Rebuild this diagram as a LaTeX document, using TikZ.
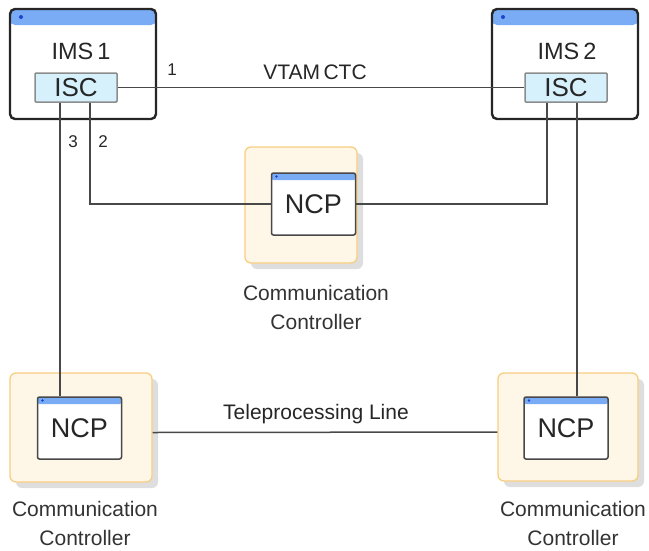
\documentclass[tikz,border=0pt]{standalone}
\usepackage{fontspec}
\setmainfont{Liberation Sans}
\usepackage{tikz}
\usetikzlibrary{positioning,shadows}
\definecolor{imsbar}{RGB}{122,172,245}
\definecolor{imsdot}{RGB}{25,70,210}
\definecolor{iscfill}{RGB}{214,240,252}
\definecolor{ccfill}{RGB}{254,246,231}
\definecolor{ccline}{RGB}{248,206,128}
\definecolor{wire}{RGB}{72,72,72}

\begin{document}
\begin{tikzpicture}[x=1pt, y=-1pt,
  imsbox/.style={draw=black!85, line width=2.4pt, rounded corners=5pt, fill=white,
    minimum width=146pt, minimum height=110pt, inner sep=0pt,
    path picture={
      \fill[imsbar] (path picture bounding box.north west) rectangle ([yshift=-16pt]path picture bounding box.north east);
      \fill[imsdot] ([xshift=11pt,yshift=-8pt]path picture bounding box.north west) circle (2pt);}},
  imstext/.style={font=\fontsize{23.5}{26}\selectfont, text=black!85},
  iscbox/.style={draw=black!45, line width=1.5pt, rounded corners=1pt, fill=iscfill,
    minimum width=82pt, minimum height=29pt, inner sep=0pt, font=\fontsize{26}{28}\selectfont, text=black!85},
  ccbox/.style={draw=ccline, line width=1.3pt, rounded corners=6pt, fill=ccfill,
    drop shadow={shadow xshift=6pt, shadow yshift=-6pt, fill=black!13, opacity=1}},
  ncpbox/.style={draw=wire, line width=1.5pt, rounded corners=2pt, fill=white,
    minimum width=84pt, minimum height=62pt, inner sep=0pt, font=\fontsize{27}{30}\selectfont, text=black!85,
    path picture={
      \fill[imsbar] (path picture bounding box.north west) rectangle ([yshift=-7pt]path picture bounding box.north east);
      \fill[imsdot] ([xshift=5pt,yshift=-3.5pt]path picture bounding box.north west) circle (1.3pt);}},
  cclabel/.style={align=center, font=\fontsize{21}{29}\selectfont, text=black!80},
  linklabel/.style={font=\fontsize{21}{24}\selectfont, text=black!85},
  numlabel/.style={font=\fontsize{17}{20}\selectfont, text=black!85},
  wire/.style={draw=wire, line width=1.5pt}
]
  \useasboundingbox (0,0) rectangle (649,550);

  % IMS systems
  \node[imsbox] (ims1) at (83,64) {};
  \node[imstext] (ims1t) at (81,51) {IMS\,1};
  \node[iscbox] (isc1) at (76,87.5) {ISC};
  \node[imsbox] (ims2) at (565,64) {};
  \node[imstext] (ims2t) at (567,51) {IMS\,2};
  \node[iscbox] (isc2) at (566,87.5) {ISC};

  % communication controllers
  \node[ccbox, minimum width=112pt, minimum height=116pt] (ccc) at (301,205) {};
  \node[ncpbox] (ncpc) at (313.5,204) {NCP};
  \node[ccbox, minimum width=142pt, minimum height=109pt] (ccl) at (81,427.5) {};
  \node[ncpbox] (ncpl) at (79.5,428) {NCP};
  \node[ccbox, minimum width=140pt, minimum height=108pt] (ccr) at (568,427) {};
  \node[ncpbox] (ncpr) at (566,428) {NCP};

  \node[cclabel] (cccl) at (316,307) {Communication\\Controller};
  \node[cclabel] (ccll) at (85,523.5) {Communication\\Controller};
  \node[cclabel] (ccrl) at (573,523.5) {Communication\\Controller};

  % links
  \draw[wire] (isc1.east) -- (isc2.west);
  \node[linklabel] (vtam) at (315,72) {VTAM\,CTC};
  \node[numlabel] (n1) at (172,70) {1};

  \draw[wire] ([xshift=14pt]isc1.south) |- (ncpc.west);
  \draw[wire] (ncpc.east) -| ([xshift=-19pt]isc2.south);
  \node[numlabel] (n2) at (103,142) {2};

  \draw[wire] ([xshift=-16pt]isc1.south) -- ([xshift=-16pt]isc1.south |- ncpl.north);
  \node[numlabel] (n3) at (73,142) {3};
  \draw[wire] ([xshift=11pt]isc2.south) -- ([xshift=11pt]isc2.south |- ncpr.north);

  \draw[wire] ([yshift=-5pt]ccl.east) -- ([yshift=-5pt]ccr.west);
  \node[linklabel] (tpl) at (316,414) {Teleprocessing Line};
\end{tikzpicture}
\end{document}
